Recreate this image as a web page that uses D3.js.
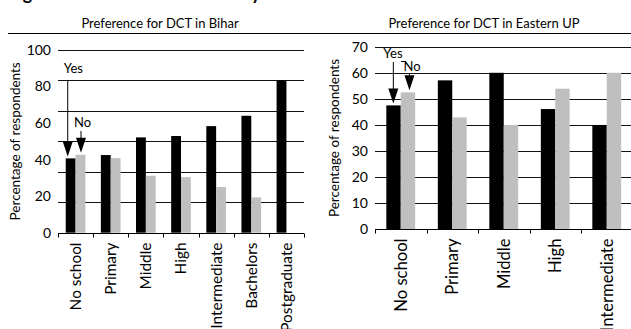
<!DOCTYPE html>
<html>
<head>
<meta charset="utf-8">
<script src="https://cdn.jsdelivr.net/npm/d3@7"></script>
<style>
  body { margin: 0; background: #fff; }
  svg { display: block; font-family: Lato, "Open Sans", sans-serif; }
</style>
</head>
<body>
<svg width="631" height="329"></svg>
<script>
// data (share of respondents, yes + no = 100)
const biharCategories = ["No school", "Primary", "Middle", "High", "Intermediate", "Bachelors", "Postgraduate"];
const biharYes = [48.8, 51.0, 62.6, 63.5, 70.0, 76.8, 100];
const biharNo = [51.2, 49.0, 37.4, 36.5, 30.0, 23.2, 0];
const biharTickLabels = ["0", "20", "40", "60", "80", "100"];

const upCategories = ["No school", "Primary", "Middle", "High", "Intermediate"];
const upYes = [47.5, 57.1, 60.0, 46.1, 40.0];
const upNo = [52.5, 42.9, 40.0, 53.9, 60.0];
const upTickLabels = ["0", "10", "20", "30", "40", "50", "60", "70"];

const svg = d3.select("svg");
const width = +svg.attr("width");

// figure caption, cut off at the top edge
svg.append("text")
	.attr("x", 8)
	.attr("y", 0)
	.attr("font-weight", "bold")
	.attr("font-size", 18)
	.text("Figure 4: Preference for DCT by education");

// rule under the panel titles
svg.append("line")
	.attr("x1", 8).attr("x2", width)
	.attr("y1", 33.5).attr("y2", 33.5)
	.attr("stroke", "#000");

const drawPanel = cfg => {
	const g = svg.append("g");

	g.append("text")
		.attr("x", cfg.titleX)
		.attr("y", 28)
		.attr("text-anchor", "middle")
		.attr("font-size", 13)
		.text(cfg.title);

	const xScale = d3.scaleBand()
		.domain(cfg.categories)
		.range([cfg.left, cfg.right])
		.paddingInner(0.44)
		.paddingOuter(0.22);

	// band edges for the category ticks
	const edge = d3.scaleBand()
		.domain(cfg.categories)
		.range([cfg.left, cfg.right]);

	const yScale = d3.scaleLinear()
		.domain([0, cfg.gridMax])
		.range([cfg.bottom, cfg.top]);

	// tick labels spaced evenly along the axis, as printed
	const labelScale = d3.scalePoint()
		.domain(cfg.tickLabels)
		.range([cfg.bottom, cfg.top]);

	g.selectAll(".grid")
		.data(d3.range(cfg.gridStep, cfg.gridMax + 0.01, cfg.gridStep))
		.enter().append("line")
			.attr("x1", cfg.left).attr("x2", cfg.right)
			.attr("y1", d => Math.round(yScale(d)) + 0.5)
			.attr("y2", d => Math.round(yScale(d)) + 0.5)
			.attr("stroke", "#111");

	g.selectAll(".ylab")
		.data(cfg.tickLabels)
		.enter().append("text")
			.attr("x", cfg.left - 7)
			.attr("y", d => labelScale(d))
			.attr("dy", "0.35em")
			.attr("text-anchor", "end")
			.attr("font-size", 14)
			.text(d => d);

	g.append("text")
		.attr("transform", `translate(${cfg.yTitleX}, ${(cfg.top + cfg.bottom) / 2}) rotate(-90)`)
		.attr("text-anchor", "middle")
		.attr("font-size", 13.5)
		.text("Percentage of respondents");

	const sub = d3.scaleBand()
		.domain(["yes", "no"])
		.range([0, xScale.bandwidth()]);

	const rows = cfg.categories.map((c, i) => ({ c, yes: cfg.yes[i], no: cfg.no[i] }));

	["yes", "no"].forEach(key => {
		g.selectAll(".bar-" + key)
			.data(rows.filter(r => r[key] > 0))
			.enter().append("rect")
				.attr("x", r => xScale(r.c) + sub(key))
				.attr("y", r => yScale(r[key]))
				.attr("width", sub.bandwidth())
				.attr("height", r => yScale(0) - yScale(r[key]))
				.attr("fill", key === "yes" ? "#000" : "#bfbfbf");
	});

	// bottom axis with ticks at the category boundaries
	const axisY = Math.round(yScale(0)) + 0.5;
	g.append("line")
		.attr("x1", cfg.left).attr("x2", cfg.right)
		.attr("y1", axisY).attr("y2", axisY)
		.attr("stroke", "#000");
	g.selectAll(".xtick")
		.data(cfg.categories.map(c => edge(c)).concat([cfg.right]))
		.enter().append("line")
			.attr("x1", d => Math.round(d) + 0.5).attr("x2", d => Math.round(d) + 0.5)
			.attr("y1", axisY).attr("y2", axisY + 4)
			.attr("stroke", "#000");

	g.selectAll(".xlab")
		.data(cfg.categories)
		.enter().append("text")
			.attr("transform", d => `translate(${xScale(d) + xScale.bandwidth() / 2}, ${axisY + 9}) rotate(-90)`)
			.attr("dy", "0.35em")
			.attr("text-anchor", "end")
			.attr("font-size", cfg.xFont)
			.text(d => d);

	// Yes / No pointers on the first pair of bars
	const first = rows[0];
	const arrow = (x, y1, tipY) => {
		g.append("line")
			.attr("x1", x).attr("x2", x)
			.attr("y1", y1).attr("y2", tipY - 10)
			.attr("stroke", "#000");
		g.append("path")
			.attr("d", `M${x - 5},${tipY - 15} L${x + 5},${tipY - 15} L${x},${tipY} Z`)
			.attr("fill", "#000");
	};
	const yesX = xScale(first.c) + sub("yes") + cfg.yesArrowDx;
	const noX = xScale(first.c) + sub("no") + sub.bandwidth() / 2 + cfg.noArrowDx;
	arrow(yesX, cfg.yesFrom, yScale(first.yes) - 2);
	arrow(noX, cfg.noFrom, yScale(first.no) - 2);

	g.append("text")
		.attr("x", yesX + cfg.yesText[0])
		.attr("y", cfg.yesFrom + cfg.yesText[1])
		.attr("font-size", 13)
		.text("Yes");
	g.append("text")
		.attr("x", noX + cfg.noText[0])
		.attr("y", cfg.noFrom + cfg.noText[1])
		.attr("font-size", 13)
		.text("No");

	return g;
};

drawPanel({
	title: "Preference for DCT in Bihar",
	titleX: 160,
	categories: biharCategories,
	yes: biharYes,
	no: biharNo,
	tickLabels: biharTickLabels,
	gridMax: 120,
	gridStep: 20,
	left: 58, right: 304, top: 50, bottom: 232.7,
	yTitleX: 20,
	xFont: 15.4,
	yesArrowDx: 2,
	noArrowDx: 0.5,
	yesFrom: 80,
	noFrom: 131,
	yesText: [-4, -7],
	noText: [-7, -4]
});

const up = drawPanel({
	title: "Preference for DCT in Eastern UP",
	titleX: 484,
	categories: upCategories,
	yes: upYes,
	no: upNo,
	tickLabels: upTickLabels,
	gridMax: 70,
	gridStep: 10,
	left: 375, right: 632.5, top: 46.7, bottom: 229.3,
	yTitleX: 339,
	xFont: 16.6,
	yesArrowDx: 7,
	noArrowDx: 1.5,
	yesFrom: 62,
	noFrom: 73,
	yesText: [-10, -4],
	noText: [-6, -2]
});

// short leader between the Yes and No labels on the right panel
up.append("line")
	.attr("x1", 401).attr("x2", 406)
	.attr("y1", 61.5).attr("y2", 61.5)
	.attr("stroke", "#000");
</script>
</body>
</html>
